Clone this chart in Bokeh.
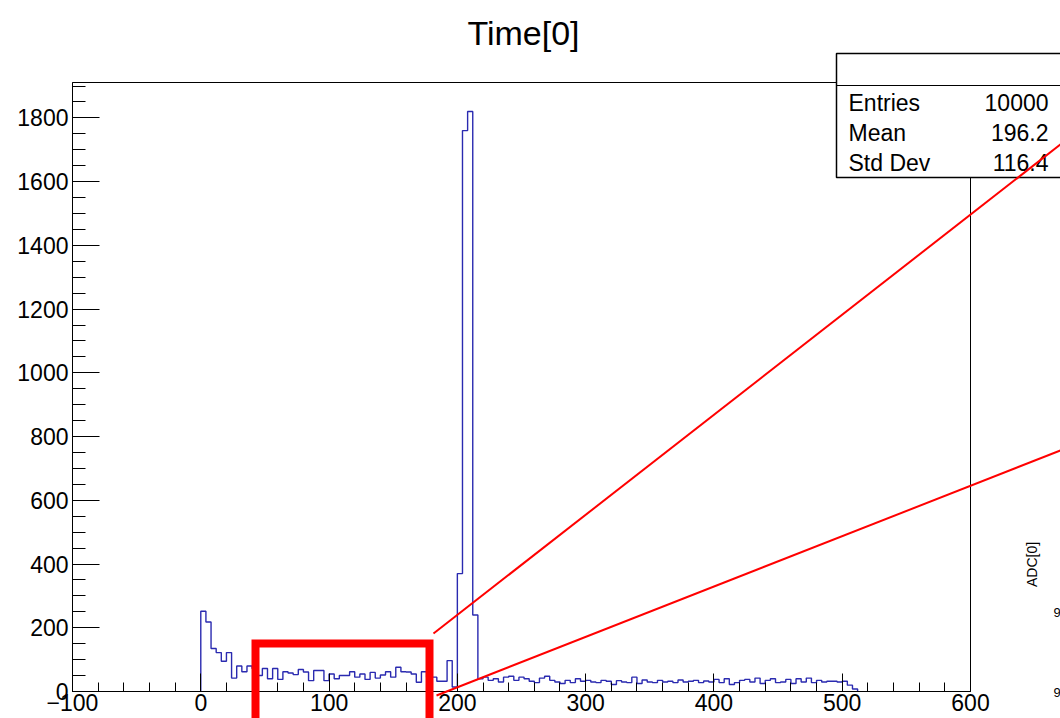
import numpy as np
from bokeh.plotting import figure
from bokeh.models import FixedTicker, Label, BoxAnnotation, PolyAnnotation, Arrow
from bokeh.embed import file_html
from bokeh.resources import INLINE

# ---------------- data ----------------
title_text = "Time[0]"
bin_start = 0
bin_width = 4
counts = [
    252, 218, 135, 122, 95, 122, 42, 80, 62, 80,
    72, 50, 72, 40, 72, 38, 62, 58, 53, 69,
    61, 34, 66, 66, 34, 55, 40, 50, 50, 62,
    45, 55, 38, 60, 42, 52, 62, 45, 76, 62,
    61, 55, 29, 62, 45, 45, 32, 32, 97, 14,
    370, 1760, 1820, 240,
    40, 45, 35, 40, 30, 45, 48, 35, 45, 40,
    32, 28, 42, 48, 35, 30, 25, 35, 28, 40,
    32, 35, 30, 28, 35, 32, 22, 34, 30, 28,
    45, 25, 36, 30, 28, 35, 30, 32, 28, 36,
    30, 32, 35, 28, 33, 30, 38, 28, 40, 22,
    28, 35, 38, 30, 42, 25, 35, 40, 28, 30,
    38, 25, 40, 30, 42, 28, 35, 30, 32, 32,
    30, 32, 20, 8,
]
x_ticks = [-100, 0, 100, 200, 300, 400, 500, 600]
x_tick_labels = ["\u2212100", "0", "100", "200", "300", "400", "500", "600"]
x_minor_step = 20
y_ticks = [0, 200, 400, 600, 800, 1000, 1200, 1400, 1600, 1800]
y_minor_step = 50
stats_names = ["Entries", "Mean", "Std Dev"]
stats_values = ["10000", "196.2", "116.4"]
side_label = "ADC[0]"
side_ticks = ["9", "9"]

# ---------------- geometry ----------------
W, H = 1060, 718
FL, FR, FT, FB = 72, 970, 82, 691          # histogram frame in canvas pixels
X0, X1 = -100, 600
Y0, Y1 = 0, 1.05 * max(counts)
FONT = "Liberation Sans"


def dx(px):
    return X0 + (px - FL) * (X1 - X0) / (FR - FL)


def dy(py):
    return Y0 + (FB - py) * (Y1 - Y0) / (FB - FT)


p = figure(width=W, height=H, x_range=(dx(0), dx(W)), y_range=(dy(H), dy(0)),
           output_backend="svg", toolbar_location=None,
           min_border_left=0, min_border_right=0,
           min_border_top=0, min_border_bottom=0)
p.background_fill_color = "white"
p.border_fill_color = "white"
p.outline_line_color = None
p.xgrid.visible = False
p.ygrid.visible = False

# histogram outline
edges = bin_start + bin_width * np.arange(len(counts) + 1)
xs = np.concatenate([[edges[0]], edges])
ys = np.concatenate([[0], counts, [0]])
p.step(xs, ys, mode="after", line_color="#2a2ab0", line_width=1.4)

# frame (top / right edges)
p.add_layout(BoxAnnotation(left=X0, right=X1, bottom=Y0, top=Y1,
                           fill_alpha=0, line_color="black", line_alpha=1,
                           line_width=1))

# axes placed on the histogram frame
xa = p.xaxis[0]
xa.fixed_location = Y0
xa.bounds = (X0, X1)
xa.ticker = FixedTicker(ticks=x_ticks,
                        minor_ticks=list(range(X0, X1 + 1, x_minor_step)))
xa.major_label_overrides = {t: l for t, l in zip(x_ticks, x_tick_labels)}
xa.major_tick_in = 18
xa.major_tick_out = 0
xa.minor_tick_in = 9
xa.minor_tick_out = 0
xa.major_label_standoff = 2
ya = p.yaxis[0]
ya.fixed_location = X0
ya.bounds = (Y0, Y1)
ya.ticker = FixedTicker(ticks=y_ticks,
                        minor_ticks=list(range(0, int(Y1) + 1, y_minor_step)))
ya.major_tick_in = 27
ya.major_tick_out = 0
ya.minor_tick_in = 13
ya.minor_tick_out = 0
ya.major_label_standoff = 4
for ax in (xa, ya):
    ax.axis_line_color = "black"
    ax.major_tick_line_color = "black"
    ax.minor_tick_line_color = "black"
    ax.major_label_text_font = FONT
    ax.major_label_text_font_size = "23px"
    ax.major_label_text_color = "black"

# title
p.add_layout(Label(x=dx(523), y=dy(32), text=title_text, text_align="center",
                   text_baseline="middle", text_font=FONT,
                   text_font_size="34px", text_color="black"))

# stats box
p.add_layout(BoxAnnotation(left=dx(836), right=dx(1075), top=dy(53), bottom=dy(177),
                           fill_color="white", fill_alpha=1.0,
                           line_color="black", line_alpha=1, line_width=1.5))
p.add_layout(Arrow(end=None, x_start=dx(836), y_start=dy(85), x_end=dx(1075),
                   y_end=dy(85), line_color="black", line_width=1))
for i, (nm, vl) in enumerate(zip(stats_names, stats_values)):
    yy = dy(102 + 30 * i)
    p.add_layout(Label(x=dx(848), y=yy, text=nm, text_align="left",
                       text_baseline="middle", text_font=FONT,
                       text_font_size="23px", text_color="black"))
    p.add_layout(Label(x=dx(1048), y=yy, text=vl, text_align="right",
                       text_baseline="middle", text_font=FONT,
                       text_font_size="23px", text_color="black"))

# neighbouring panel fragments at the right edge
p.add_layout(Label(x=dx(1031), y=dy(564), text=side_label, angle=np.pi / 2,
                   text_align="center", text_baseline="middle", text_font=FONT,
                   text_font_size="14px", text_color="black"))
for t, yy in zip(side_ticks, (612, 692)):
    p.add_layout(Label(x=dx(1053), y=dy(yy), text=t, text_align="left",
                       text_baseline="middle", text_font=FONT,
                       text_font_size="13px", text_color="black"))

# red highlight overlay
p.add_layout(PolyAnnotation(xs=[dx(255), dx(255), dx(429), dx(429)],
                            ys=[dy(760), dy(643), dy(643), dy(760)],
                            fill_alpha=0, line_color="#ff0000", line_alpha=1,
                            line_width=8, line_join="miter"))
p.add_layout(Arrow(end=None, x_start=dx(433), y_start=dy(633), x_end=dx(1065),
                   y_end=dy(140), line_color="#ff0000", line_width=2))
p.add_layout(Arrow(end=None, x_start=dx(436), y_start=dy(695), x_end=dx(1065),
                   y_end=dy(448), line_color="#ff0000", line_width=2))

open("out.html", "w").write(file_html(p, INLINE))
